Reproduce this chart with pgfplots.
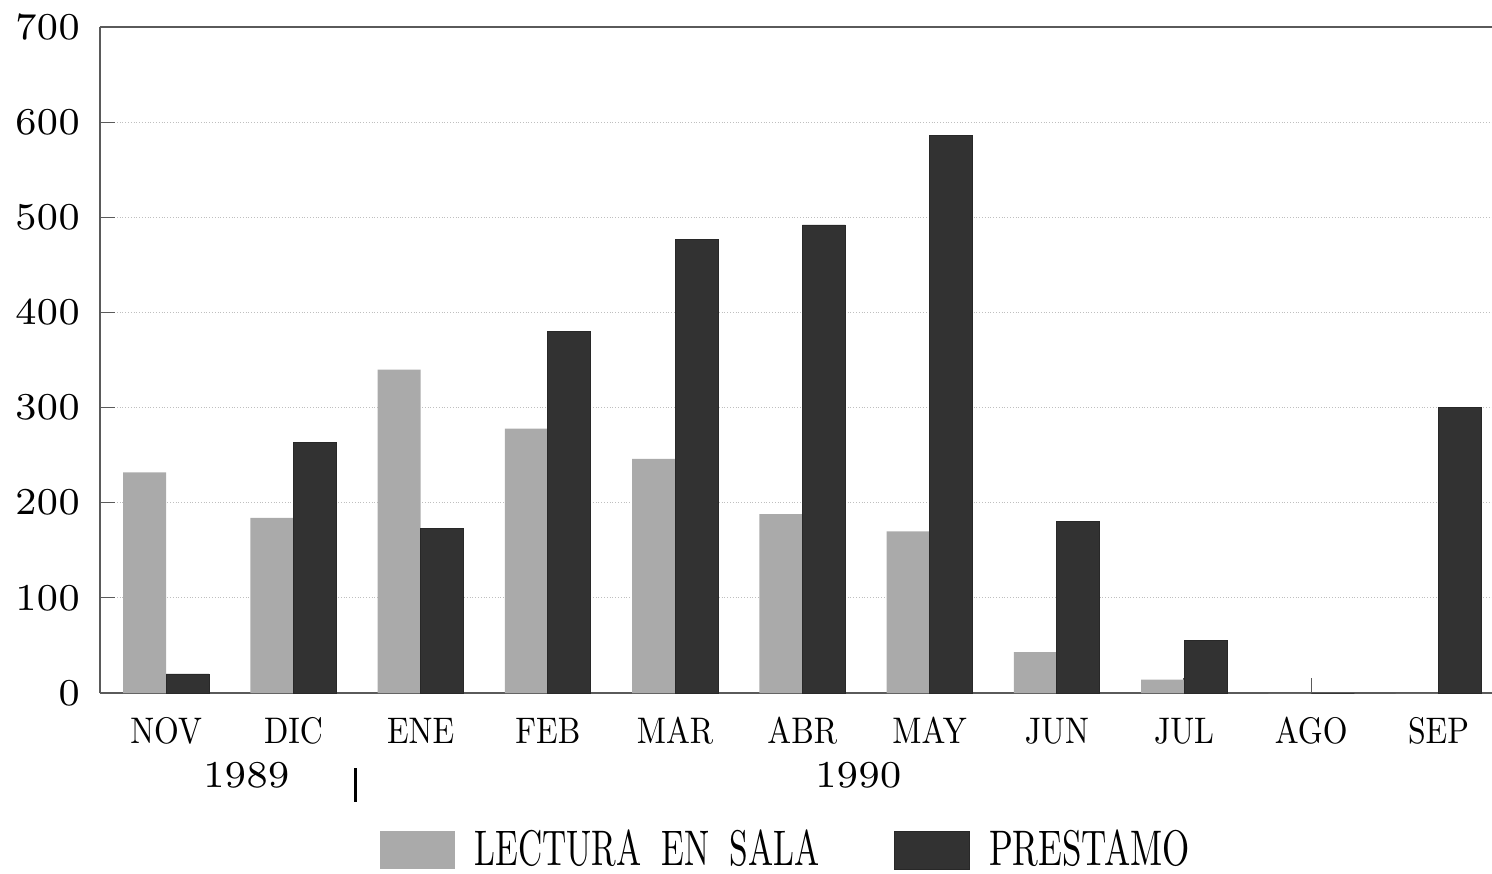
\documentclass[border=0pt]{standalone}
\usepackage{graphicx}
\usepackage{pgfplots}
\pgfplotsset{compat=1.18}
\definecolor{lect}{RGB}{170,170,170}
\definecolor{prest}{RGB}{50,50,50}
\definecolor{axc}{RGB}{90,90,90}
\font\tickfont=cmr7 at 19pt
\font\monfont=cmr10 at 18.5pt
\font\legfont=cmr10 at 25pt
\newcommand{\mo}[1]{\scalebox{0.86}[1]{\monfont #1}}
\newcommand{\legtxt}[2]{\hspace{7.5pt}\scalebox{#1}[1]{\legfont #2}}
\begin{document}
\begin{tikzpicture}
\useasboundingbox (-50pt,-90pt) rectangle (696pt,346.5pt);
\begin{axis}[
  at={(0,0)}, anchor=south west,
  scale only axis, width=696pt, height=333pt,
  xmin=-0.52, xmax=10.42, ymin=0, ymax=700,
  ybar=0pt, bar width=21.5pt,
  axis x line=bottom, axis y line=left,
  x axis line style={-, axc, line width=0.6pt},
  y axis line style={-, axc, line width=1pt},
  xtick={0,...,10},
  xticklabels={\mo{NOV},\mo{DIC},\mo{ENE},\mo{FEB},\mo{MAR},\mo{ABR},\mo{MAY},\mo{JUN},\mo{JUL},\mo{AGO},\mo{SEP}},
  ytick={0,100,...,700},
  /pgf/number format/assume math mode=true,
  ymajorgrids, grid style={densely dotted, gray!50, line width=0.5pt},
  tick align=inside, major tick length=7.5pt,
  tick style={axc, line width=0.6pt},
  yticklabel style={font=\tickfont, xshift=-6.5pt},
  xticklabel style={yshift=-9pt},
  clip=false,
  legend style={draw=none, fill=none, at={(rel axis cs:0.2011,-0.236)}, anchor=west,
    legend columns=2, inner sep=0pt,
    /tikz/every even column/.append style={column sep=35.5pt}},
  legend image code/.code={\fill[#1] (0pt,-9.5pt) rectangle (37.5pt,9.5pt);},
]
\addplot[fill=lect, draw=none] coordinates {
 (0,232) (1,184) (2,340) (3,278) (4,246) (5,188) (6,170) (7,43) (8,14) (9,0) (10,0)};
\addlegendentry{\legtxt{0.67}{LECTURA\hspace{0.6em}EN\hspace{0.6em}SALA}}
\addplot[fill=prest, draw=prest!80!black] coordinates {
 (0,20) (1,263) (2,173) (3,380) (4,477) (5,492) (6,586) (7,180) (8,55) (9,0) (10,300)};
\addlegendentry{\legtxt{0.70}{PRESTAMO}}
\draw[axc, line width=0.6pt] (rel axis cs:0,1) -- (rel axis cs:1,1);
\node[font=\tickfont] at ([yshift=-41pt]axis cs:0.63,0) {1989};
\node[font=\tickfont] at ([yshift=-41pt]axis cs:5.44,0) {1990};
\draw[line width=1.3pt] ([yshift=-37.5pt]axis cs:1.49,0) -- ([yshift=-54.5pt]axis cs:1.49,0);
\end{axis}
\end{tikzpicture}
\end{document}
